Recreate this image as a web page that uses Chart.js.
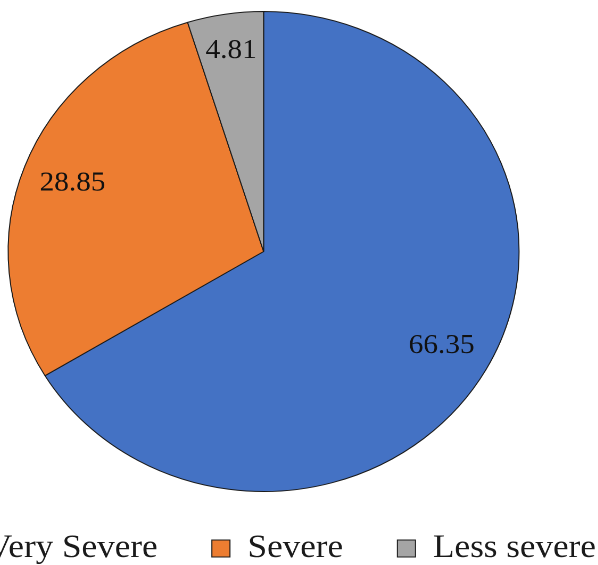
<!DOCTYPE html>
<html>
<head>
<meta charset="utf-8">
<script src="https://cdn.jsdelivr.net/npm/chart.js@4/dist/chart.umd.min.js"></script>
<style>
  html, body { margin: 0; padding: 0; width: 598px; height: 565px; overflow: hidden; background: #ffffff; }
  #wrap {
    position: absolute; left: -122.6px; top: 0;
    width: 726.4px; height: 575px;
    transform: scaleX(1.0644); transform-origin: 0 0;
  }
</style>
</head>
<body>
<div id="wrap"><canvas id="c"></canvas></div>
<script>
// ---- data ----
const categories = ["Very Severe", "Severe", "Less severe"];
const values = [66.35, 28.85, 4.81];
const valueLabels = ["66.35", "28.85", "4.81"];

// ---- styling ----
const sliceColors = ["#4472C4", "#ED7D31", "#A5A5A5"];
const labelRadiusFactor = [0.80, 0.80, 0.845];
const FONT = "'Liberation Serif', 'Times New Roman', serif";

const valueLabelPlugin = {
  id: 'valueLabels',
  afterDatasetsDraw(chart) {
    const ctx = chart.ctx;
    const meta = chart.getDatasetMeta(0);
    ctx.save();
    ctx.font = "27.5px " + FONT;
    ctx.fillStyle = "#111111";
    ctx.textAlign = "center";
    ctx.textBaseline = "middle";
    meta.data.forEach((arc, i) => {
      const p = arc.getProps(['x', 'y', 'startAngle', 'endAngle', 'outerRadius'], true);
      const mid = (p.startAngle + p.endAngle) / 2;
      const r = p.outerRadius * labelRadiusFactor[i];
      ctx.fillText(valueLabels[i], p.x + Math.cos(mid) * r, p.y + Math.sin(mid) * r);
    });
    ctx.restore();
  }
};

new Chart(document.getElementById('c'), {
  type: 'pie',
  data: {
    labels: categories,
    datasets: [{
      data: values,
      backgroundColor: sliceColors,
      borderColor: "#1a1a1a",
      borderWidth: 1,
      radius: 240,
      offset: 0,
      hoverOffset: 0,
      clip: false
    }]
  },
  options: {
    responsive: true,
    maintainAspectRatio: false,
    animation: false,
    devicePixelRatio: 2,
    events: [],
    layout: { padding: { top: 22, bottom: 0, left: 0, right: 0 } },
    plugins: {
      tooltip: { enabled: false },
      legend: {
        display: true,
        position: 'bottom',
        align: 'end',
        labels: {
          boxWidth: 17,
          boxHeight: 17,
          padding: 51,
          color: "#1a1a1a",
          font: { family: FONT, size: 33 }
        }
      }
    }
  },
  plugins: [valueLabelPlugin]
});
</script>
</body>
</html>
